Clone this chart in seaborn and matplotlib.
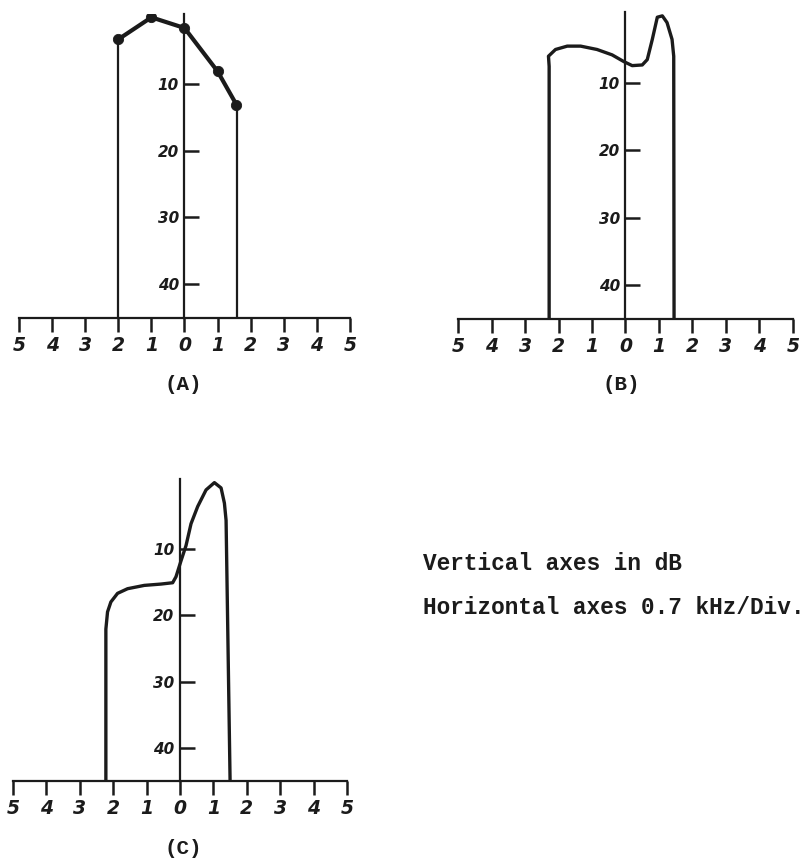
import matplotlib
matplotlib.use("Agg")
import matplotlib.pyplot as plt
import seaborn as sns
import pandas as pd

# ---- data ----
tick_positions = [-5, -4, -3, -2, -1, 0, 1, 2, 3, 4, 5]
tick_labels = ["5", "4", "3", "2", "1", "0", "1", "2", "3", "4", "5"]
db_ticks = [10, 20, 30, 40]
db_labels = ["10", "20", "30", "40"]

# (A) measured points
a_freq = [-2.0, -1.0, 0.0, 1.0, 1.57]
a_db = [3.3, 0.0, 1.6, 8.1, 13.1]
a_edges = [-2.02, 1.59]

# (B) traced response (including the skirts down to the axis)
b_freq = [-2.28, -2.28, -2.3, -2.09, -1.74, -1.34, -0.85, -0.40, -0.05, 0.2,
          0.5, 0.65, 0.8, 0.95, 1.1, 1.24, 1.39, 1.44, 1.45]
b_db = [45.0, 7.5, 6.0, 5.0, 4.5, 4.5, 5.0, 5.8, 6.8, 7.4,
        7.3, 6.5, 3.5, 0.2, 0.0, 1.0, 3.5, 6.0, 45.0]

# (C) traced response
c_freq = [-2.22, -2.22, -2.17, -2.07, -1.87, -1.57, -1.07, -0.57, -0.22, -0.12,
          0.03, 0.18, 0.33, 0.53, 0.78, 1.03, 1.23, 1.33, 1.38, 1.5]
c_db = [45.0, 22.1, 19.5, 18.0, 16.7, 16.0, 15.5, 15.3, 15.1, 14.2,
        11.8, 9.5, 6.2, 3.6, 1.1, 0.0, 0.8, 3.1, 5.7, 45.0]

panel_labels = ["(A)", "(B)", "(C)"]
note_lines = ["Vertical axes in dB", "Horizontal axes 0.7 kHz/Div."]

# ---- style ----
sns.set_theme(style="white")
plt.rcParams["font.family"] = ["DejaVu Sans"]
INK = "#1b1b1b"

W, H = 803, 860
fig = plt.figure(figsize=(W / 100, H / 100), dpi=100)


def make_axes(left_px, right_px, top_px, bottom_px):
    return fig.add_axes([left_px / W, 1 - bottom_px / H,
                         (right_px - left_px) / W, (bottom_px - top_px) / H])


def style_axes(ax):
    ax.set_xlim(-5.1, 5.1)
    ax.set_ylim(45, -0.5)
    for s in ["top", "right"]:
        ax.spines[s].set_visible(False)
    ax.spines["left"].set_position(("data", 0))
    ax.spines["bottom"].set_bounds(-5, 5)
    for s in ["left", "bottom"]:
        ax.spines[s].set_color(INK)
        ax.spines[s].set_linewidth(1.6)
    ax.set_xticks(tick_positions)
    ax.set_xticklabels(tick_labels, fontsize=13.5, fontweight="bold",
                       fontstyle="italic", color=INK)
    ax.set_yticks(db_ticks)
    ax.set_yticklabels(db_labels, fontsize=11, fontweight="bold",
                       fontstyle="italic", color=INK)
    ax.tick_params(axis="x", direction="out", length=10, width=1.8,
                   color=INK, pad=3, bottom=True)
    ax.tick_params(axis="y", direction="in", length=11, width=1.8,
                   color=INK, pad=4, left=True)
    ax.set_xlabel("")
    ax.set_ylabel("")
    ax.patch.set_alpha(0)
    ax.grid(False)


# Panel A
axA = make_axes(15.7, 353.3, 14.0, 317.5)
sns.lineplot(x=a_freq, y=a_db, sort=False, estimator=None, ax=axA,
             color=INK, lw=3.0)
sns.scatterplot(x=a_freq, y=a_db, ax=axA, color=INK, s=55, edgecolor=INK,
                zorder=5)
axA.vlines(a_edges, ymin=[a_db[0], a_db[-1]], ymax=45, colors=INK, lw=1.6)
style_axes(axA)

# Panel B
axB = make_axes(454.7, 796.3, 12.5, 318.5)
dfB = pd.DataFrame({"f": b_freq, "db": b_db})
sns.lineplot(data=dfB, x="f", y="db", sort=False, estimator=None, ax=axB,
             color=INK, lw=2.4)
style_axes(axB)

# Panel C
axC = make_axes(9.7, 350.3, 479.3, 781.0)
dfC = pd.DataFrame({"f": c_freq, "db": c_db})
sns.lineplot(data=dfC, x="f", y="db", sort=False, estimator=None, ax=axC,
             color=INK, lw=2.4)
style_axes(axC)

# panel captions
mono = ["Liberation Mono", "DejaVu Sans Mono"]
for lab, (xp, yp) in zip(panel_labels, [(183, 385), (621, 384), (183, 848)]):
    fig.text(xp / W, 1 - yp / H, lab, ha="center", va="center",
             fontsize=15, fontweight="bold", family=mono, color=INK)

for i, line in enumerate(note_lines):
    fig.text(423 / W, 1 - (563 + 44 * i) / H, line, ha="left", va="center",
             fontsize=16.4, fontweight="bold", family=mono, color=INK)

fig.savefig("out.png", dpi=100, facecolor="white")
